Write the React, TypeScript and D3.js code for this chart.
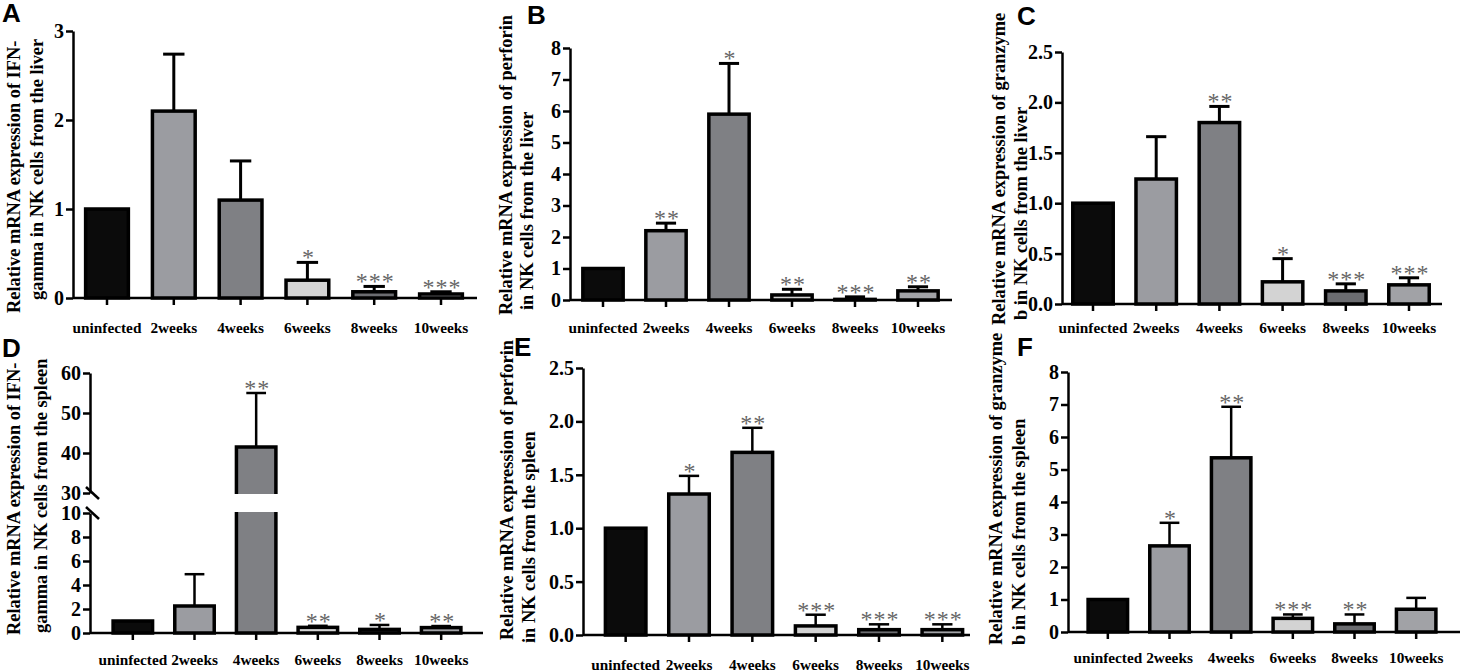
import React, { useRef, useEffect } from "react";
import * as d3 from "d3";

// categories shared by all six panels
const categories = ["uninfected", "2weeks", "4weeks", "6weeks", "8weeks", "10weeks"];
const barColors = ["#0b0b0b", "#9b9ca1", "#7f8084", "#d3d3d3", "#6b6c70", "#a1a2a6"];

// A: IFN-gamma, liver
const ifnLiverMean = [1.0, 2.1, 1.1, 0.2, 0.07, 0.045];
const ifnLiverErr = [0, 0.64, 0.44, 0.2, 0.06, 0.025];
const ifnLiverSig = ["", "", "", "*", "***", "***"];

// B: perforin, liver
const perfLiverMean = [1.0, 2.2, 5.9, 0.16, 0.02, 0.29];
const perfLiverErr = [0, 0.24, 1.61, 0.18, 0.08, 0.13];
const perfLiverSig = ["", "**", "*", "**", "***", "**"];

// C: granzyme b, liver
const gzmLiverMean = [1.0, 1.24, 1.8, 0.22, 0.13, 0.19];
const gzmLiverErr = [0, 0.42, 0.16, 0.23, 0.07, 0.07];
const gzmLiverSig = ["", "", "**", "*", "***", "***"];

// D: IFN-gamma, spleen (broken axis)
const ifnSpleenMean = [1.0, 2.25, 41.5, 0.47, 0.3, 0.45];
const ifnSpleenErr = [0, 2.65, 13.5, 0.13, 0.37, 0.13];
const ifnSpleenSig = ["", "", "**", "**", "*", "**"];

// E: perforin, spleen
const perfSpleenMean = [1.0, 1.32, 1.71, 0.085, 0.05, 0.05];
const perfSpleenErr = [0, 0.17, 0.23, 0.105, 0.05, 0.05];
const perfSpleenSig = ["", "*", "**", "***", "***", "***"];

// F: granzyme b, spleen
const gzmSpleenMean = [1.0, 2.65, 5.36, 0.42, 0.25, 0.7];
const gzmSpleenErr = [0, 0.71, 1.57, 0.12, 0.29, 0.35];
const gzmSpleenSig = ["", "*", "**", "***", "**", ""];

const serif = "'Liberation Serif', 'Times New Roman', serif";
const sans = "'Liberation Sans', Arial, sans-serif";

interface PanelSpec {
  letter: string;
  letterPos: [number, number];
  title: [string, string];
  titleX: [number, number];
  titleY: [number, number];
  axisX: number;
  axisEnd: number;
  band: [number, number];
  baseY: number;
  topY: number;
  max: number;
  ticks: number[];
  fmt: string;
  labelY: number;
  errW: number;
  mean: number[];
  err: number[];
  sig: string[];
  brk?: { min: number; max: number; bottomY: number; topY: number; ticks: number[] };
}

const panels: PanelSpec[] = [
  {
    letter: "A", letterPos: [2, 22],
    title: ["Relative mRNA expression of IFN-", "gamma in NK cells from the liver"],
    titleX: [20, 43], titleY: [313, 300],
    axisX: 73, axisEnd: 477, band: [73.6, 474.4], baseY: 298, topY: 31, max: 3,
    ticks: [0, 1, 2, 3], fmt: "d", labelY: 333, errW: 3,
    mean: ifnLiverMean, err: ifnLiverErr, sig: ifnLiverSig,
  },
  {
    letter: "B", letterPos: [527, 24],
    title: ["Relative mRNA expression of perforin", "in NK cells from the liver"],
    titleX: [512, 533], titleY: [315, 310],
    axisX: 570, axisEnd: 952, band: [571.5, 949.5], baseY: 300, topY: 48, max: 8,
    ticks: [0, 1, 2, 3, 4, 5, 6, 7, 8], fmt: "d", labelY: 333, errW: 3,
    mean: perfLiverMean, err: perfLiverErr, sig: perfLiverSig,
  },
  {
    letter: "C", letterPos: [1017, 25],
    title: ["Relative mRNA expression of granzyme", "b in NK cells from the liver"],
    titleX: [1005, 1027], titleY: [325, 320],
    axisX: 1062, axisEnd: 1442, band: [1061.4, 1440.6], baseY: 304, topY: 52, max: 2.5,
    ticks: [0, 0.5, 1, 1.5, 2, 2.5], fmt: ".1f", labelY: 333, errW: 3,
    mean: gzmLiverMean, err: gzmLiverErr, sig: gzmLiverSig,
  },
  {
    letter: "D", letterPos: [2, 357],
    title: ["Relative mRNA expression of IFN-", "gamma in NK cells from the spleen"],
    titleX: [20, 47], titleY: [635, 633],
    axisX: 90, axisEnd: 483, band: [102, 472], baseY: 633, topY: 513, max: 10,
    ticks: [0, 2, 4, 6, 8, 10], fmt: "d", labelY: 665, errW: 2.5,
    mean: ifnSpleenMean, err: ifnSpleenErr, sig: ifnSpleenSig,
    brk: { min: 30, max: 60, bottomY: 493, topY: 373, ticks: [30, 40, 50, 60] },
  },
  {
    letter: "E", letterPos: [514, 356],
    title: ["Relative mRNA expression of perforin", "in NK cells from the spleen"],
    titleX: [513, 535], titleY: [640, 643],
    axisX: 583, axisEnd: 970, band: [594, 974], baseY: 635, topY: 368, max: 2.5,
    ticks: [0, 0.5, 1, 1.5, 2, 2.5], fmt: ".1f", labelY: 670, errW: 2.5,
    mean: perfSpleenMean, err: perfSpleenErr, sig: perfSpleenSig,
  },
  {
    letter: "F", letterPos: [1017, 356],
    title: ["Relative mRNA expression of granzyme", "b in NK cells from the spleen"],
    titleX: [1002, 1025], titleY: [645, 645],
    axisX: 1068, axisEnd: 1460, band: [1077, 1447], baseY: 632, topY: 372, max: 8,
    ticks: [0, 1, 2, 3, 4, 5, 6, 7, 8], fmt: "d", labelY: 663, errW: 2.5,
    mean: gzmSpleenMean, err: gzmSpleenErr, sig: gzmSpleenSig,
  },
];

function styleYAxis(ax: d3.Selection<SVGGElement, unknown, null, undefined>) {
  ax.select(".domain").attr("stroke", "#000").attr("stroke-width", 2.5);
  ax.selectAll(".tick line").attr("stroke", "#000").attr("stroke-width", 2.5);
  ax.selectAll(".tick text")
    .attr("fill", "#000")
    .style("font-family", serif)
    .style("font-weight", "bold")
    .style("font-size", "20px");
}

function drawPanel(svg: d3.Selection<SVGSVGElement, unknown, null, undefined>, p: PanelSpec) {
  const g = svg.append("g");

  const x = d3.scaleBand().domain(categories).range(p.band).paddingInner(0.36).paddingOuter(0.18);
  const yLow = d3.scaleLinear().domain([0, p.max]).range([p.baseY, p.topY]);
  const yHigh = p.brk
    ? d3.scaleLinear().domain([p.brk.min, p.brk.max]).range([p.brk.bottomY, p.brk.topY])
    : null;
  const y = (v: number) => (yHigh && v > p.max ? yHigh(v) : yLow(v));

  // y axis (lower / only segment)
  const axLow = g.append("g")
    .attr("transform", `translate(${p.axisX},0)`)
    .call(d3.axisLeft(yLow).tickValues(p.ticks).tickFormat(d3.format(p.fmt) as any).tickSize(7).tickSizeOuter(0).tickPadding(2));
  styleYAxis(axLow);

  if (p.brk && yHigh) {
    const axHigh = g.append("g")
      .attr("transform", `translate(${p.axisX},0)`)
      .call(d3.axisLeft(yHigh).tickValues(p.brk.ticks).tickFormat(d3.format("d") as any).tickSize(7).tickSizeOuter(0).tickPadding(2));
    styleYAxis(axHigh);
    // break marks
    [p.brk.bottomY, yLow(p.max)].forEach(yb => {
      g.append("line")
        .attr("x1", p.axisX - 4).attr("y1", yb - 6)
        .attr("x2", p.axisX + 9).attr("y2", yb + 6)
        .attr("stroke", "#000").attr("stroke-width", 2.5);
    });
  }

  // x axis
  g.append("line")
    .attr("x1", p.axisX).attr("x2", p.axisEnd)
    .attr("y1", p.baseY).attr("y2", p.baseY)
    .attr("stroke", "#000").attr("stroke-width", 2.5);

  const labelSize = 15.3;
  const axX = g.append("g")
    .attr("transform", `translate(0,${p.baseY})`)
    .call(d3.axisBottom(x).tickSize(7).tickSizeOuter(0).tickPadding(p.labelY - p.baseY - 7 - 0.71 * labelSize));
  axX.select(".domain").remove();
  axX.selectAll(".tick line").attr("stroke", "#000").attr("stroke-width", 2.5);
  axX.selectAll(".tick text")
    .attr("fill", "#000")
    .style("font-family", serif)
    .style("font-weight", "bold")
    .style("font-size", `${labelSize}px`);

  const data = categories.map((c, i) => ({ c, i, mean: p.mean[i], err: p.err[i], sig: p.sig[i] }));

  // bars
  g.selectAll(".bar")
    .data(data)
    .enter()
    .append("rect")
    .attr("class", "bar")
    .attr("x", d => x(d.c)!)
    .attr("width", x.bandwidth())
    .attr("y", d => y(d.mean))
    .attr("height", d => p.baseY - y(d.mean))
    .attr("fill", d => barColors[d.i])
    .attr("stroke", "#000")
    .attr("stroke-width", 3.5);

  // gap through bars that cross the axis break
  if (p.brk) {
    data.filter(d => d.mean > p.max).forEach(d => {
      g.append("rect")
        .attr("x", x(d.c)! - 3)
        .attr("width", x.bandwidth() + 6)
        .attr("y", p.brk!.bottomY + 1)
        .attr("height", yLow(p.max) - p.brk!.bottomY - 2)
        .attr("fill", "#fff");
    });
  }

  // error bars (upper only)
  const cap = x.bandwidth() * 0.5;
  data.filter(d => d.err > 0).forEach(d => {
    const cx = x(d.c)! + x.bandwidth() / 2;
    const yt = y(d.mean + d.err);
    g.append("line")
      .attr("x1", cx).attr("x2", cx)
      .attr("y1", y(d.mean)).attr("y2", yt)
      .attr("stroke", "#000").attr("stroke-width", p.errW);
    g.append("line")
      .attr("x1", cx - cap / 2).attr("x2", cx + cap / 2)
      .attr("y1", yt).attr("y2", yt)
      .attr("stroke", "#000").attr("stroke-width", p.errW);
  });

  // significance stars
  g.selectAll(".sig")
    .data(data.filter(d => d.sig))
    .enter()
    .append("text")
    .attr("class", "sig")
    .attr("x", d => x(d.c)! + x.bandwidth() / 2 + 1)
    .attr("y", d => y(d.mean + d.err) + 3)
    .attr("text-anchor", "middle")
    .attr("fill", "#666")
    .style("font-family", serif)
    .style("font-size", "24px")
    .style("letter-spacing", "1px")
    .text(d => d.sig);

  // y title (two rotated lines)
  p.title.forEach((t, i) => {
    g.append("text")
      .attr("transform", `translate(${p.titleX[i]},${p.titleY[i]}) rotate(-90)`)
      .attr("text-anchor", "start")
      .attr("fill", "#000")
      .style("font-family", serif)
      .style("font-weight", "bold")
      .style("font-size", "18.4px")
      .text(t);
  });

  // panel letter
  g.append("text")
    .attr("x", p.letterPos[0])
    .attr("y", p.letterPos[1])
    .attr("fill", "#000")
    .style("font-family", sans)
    .style("font-weight", "bold")
    .style("font-size", "26px")
    .text(p.letter);
}

const App: React.FC = () => {
  const svgRef = useRef<SVGSVGElement>(null);

  useEffect(() => {
    const svg = d3.select(svgRef.current!);
    svg.selectAll("*").remove();
    panels.forEach(p => drawPanel(svg, p));
  }, []);

  return (
    <svg
      ref={svgRef}
      width={1460}
      height={672}
      style={{ position: "absolute", left: 0, top: 0, background: "#fff" }}
    />
  );
};

export default App;
